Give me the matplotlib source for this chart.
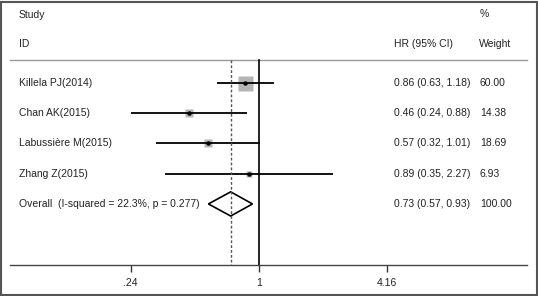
import matplotlib
matplotlib.use("Agg")
import matplotlib.pyplot as plt
from matplotlib.patches import Polygon, Rectangle
from matplotlib.transforms import blended_transform_factory
import numpy as np

plt.rcParams['font.family'] = ['Liberation Sans', 'DejaVu Sans']

studies = ["Killela PJ(2014)", "Chan AK(2015)", "Labussière M(2015)", "Zhang Z(2015)"]
hr = [0.86, 0.46, 0.57, 0.89]
lo = [0.63, 0.24, 0.32, 0.35]
hi = [1.18, 0.88, 1.01, 2.27]
weights = [60.00, 14.38, 18.69, 6.93]
weight_labels = ["60.00", "14.38", "18.69", "6.93"]
overall_label = "Overall  (I-squared = 22.3%, p = 0.277)"
overall_hr, overall_lo, overall_hi = 0.73, 0.57, 0.93
overall_weight = "100.00"
xticks = [0.24, 1, 4.16]
xtick_labels = [".24", "1", "4.16"]

W, H = 538, 296
fig = plt.figure(figsize=(W / 100, H / 100), dpi=100)
fig.patch.set_facecolor("white")

# axes spanning pixel x 10..527, y 2..265
ax = fig.add_axes([10 / W, (H - 265) / H, 517 / W, 263 / H])
ax.set_xscale("log")
ppl = 90.0  # pixels per ln unit
x0 = 259
ax.set_xlim(np.exp((10 - x0) / ppl), np.exp((527 - x0) / ppl))
ax.set_ylim(7.02, -1.68)
ax.set_facecolor("none")
for s in ["top", "right", "left"]:
    ax.spines[s].set_visible(False)
ax.spines["bottom"].set_color("#444444")
ax.spines["bottom"].set_linewidth(1.0)
ax.set_yticks([])
ax.set_xticks(xticks)
ax.set_xticklabels(xtick_labels)
ax.xaxis.set_minor_locator(matplotlib.ticker.NullLocator())
ax.tick_params(axis="x", length=5, width=1, color="#333333", labelsize=7.5,
               labelcolor="#222222", pad=4)

tc = "#222222"
fs = 7.5
tr = blended_transform_factory(ax.transAxes, ax.transData)
def fx(px):
    return (px - 10) / 517

# headers
ax.text(fx(19), -1.25, "Study", transform=tr, fontsize=fs, color=tc, va="center")
ax.text(fx(19), -0.29, "ID", transform=tr, fontsize=fs, color=tc, va="center")
ax.text(fx(480), -1.28, "%", transform=tr, fontsize=fs, color=tc, va="center")
ax.text(fx(394), -0.29, "HR (95% CI)", transform=tr, fontsize=fs, color=tc, va="center")
ax.text(fx(479), -0.29, "Weight", transform=tr, fontsize=fs, color=tc, va="center")

# header rule
ax.plot([0, 1], [0.24, 0.24], transform=tr, color="#999999", lw=1.0, clip_on=False)

# reference lines
ax.plot([1, 1], [0.24, 7.02], color="black", lw=1.2)
ax.plot([overall_hr, overall_hr], [0.24, 7.02], color="#555555", lw=1.0,
        ls=(0, (2, 1.5)), zorder=5)

rows = np.arange(1, len(studies) + 1)
for r, name, h, l, u, w, wl in zip(rows, studies, hr, lo, hi, weights, weight_labels):
    ax.plot([l, u], [r, r], color="black", lw=1.3, solid_capstyle="butt", zorder=3)
    ax.plot([h], [r], marker="s", ms=10.8 * np.sqrt(w / 60), color="#b5b5b5",
            mec="none", zorder=2)
    ax.plot([h], [r], marker="o", ms=2.2, color="black", zorder=4)
    ax.text(fx(19), r, name, transform=tr, fontsize=fs, color=tc, va="center")
    ax.text(fx(394), r, f"{h:.2f} ({l:.2f}, {u:.2f})", transform=tr, fontsize=fs,
            color=tc, va="center")
    ax.text(fx(480), r, wl, transform=tr, fontsize=fs, color=tc, va="center")

# overall
ro = len(studies) + 1
hd = 0.4
diamond = Polygon([(overall_lo, ro), (overall_hr, ro - hd), (overall_hi, ro),
                   (overall_hr, ro + hd)], closed=True, fill=False,
                  edgecolor="black", lw=1.2, zorder=3)
ax.add_patch(diamond)
ax.text(fx(19), ro, overall_label, transform=tr, fontsize=fs, color=tc, va="center")
ax.text(fx(394), ro, f"{overall_hr:.2f} ({overall_lo:.2f}, {overall_hi:.2f})",
        transform=tr, fontsize=fs, color=tc, va="center")
ax.text(fx(480), ro, overall_weight, transform=tr, fontsize=fs, color=tc, va="center")

# outer frame
fig.patches.append(Rectangle((1 / W, 1 / H), (W - 2.5) / W, (H - 2.5) / H,
                             transform=fig.transFigure, fill=False,
                             edgecolor="#555555", lw=1.5))

fig.savefig("out.png", dpi=100)
